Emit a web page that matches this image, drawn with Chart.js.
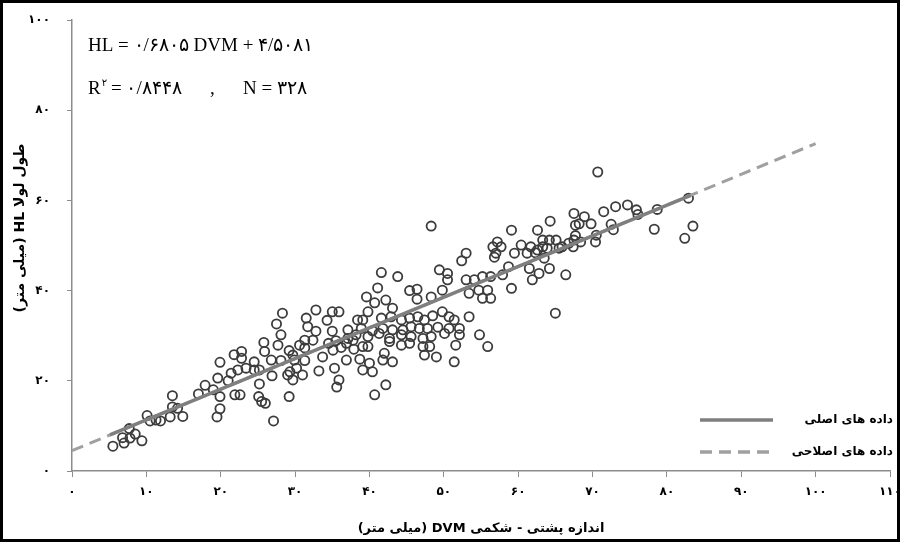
<!DOCTYPE html>
<html>
<head>
<meta charset="utf-8">
<script src="https://cdn.jsdelivr.net/npm/chart.js@4.4.1/dist/chart.umd.min.js"></script>
<style>
  html, body { margin: 0; padding: 0; background: #fff; }
  canvas { display: block; }
</style>
</head>
<body>
<canvas id="myChart" width="902" height="546" dir="rtl"></canvas>
<script>
const ctx = document.getElementById('myChart').getContext('2d')

// DVM (mm) of each specimen
const dvm = [
  5.5, 7.0, 6.8, 7.7, 7.8, 8.5, 9.4, 10.1, 10.5, 11.3, 11.9, 13.2, 13.5, 13.5, 14.2, 14.9,
  17.0, 17.9, 19.0, 19.6, 19.9, 19.9, 19.9, 19.5, 21.0, 21.4, 21.8, 21.9, 22.6, 22.3, 22.8, 22.8,
  23.4, 24.5, 24.5, 25.2, 25.1, 25.5, 26.0, 25.8, 25.9, 27.1,
  25.2, 26.8, 26.9, 27.5, 28.3, 27.7, 28.1, 28.1, 29.0, 29.2, 29.2, 29.3, 29.7, 29.7, 29.9, 30.2,
  30.6, 31.3, 31.3, 31.3, 31.0, 31.5, 31.7, 32.4, 32.8, 32.8, 33.2, 33.7, 34.3, 34.5, 35.0, 35.0,
  35.1, 35.3, 35.5, 35.6, 35.9, 35.9, 36.2, 36.9, 36.9, 37.1, 37.1, 37.8, 37.9, 38.4, 38.7, 39.1,
  39.1, 39.1, 39.8, 39.6,
  48.3, 53.0, 52.4, 49.4, 50.5, 50.5, 49.8, 53.0, 54.1, 55.2, 53.4, 55.2, 41.6, 43.8, 41.1, 45.4,
  46.4, 46.4, 48.3, 40.7, 42.2, 43.1, 41.6, 42.9, 44.3, 45.4, 46.5, 47.4, 48.5, 49.8, 50.7, 51.4,
  38.9, 40.4, 41.8, 43.1, 44.5, 45.6, 46.7, 47.8, 49.2, 50.7, 52.1, 53.4, 38.2, 39.8, 41.3, 42.7,
  44.3, 45.6, 47.2, 48.3, 50.1, 52.1, 54.8, 55.9, 51.6, 39.8, 42.7, 44.3, 45.4, 47.2, 48.1, 47.4,
  49.0, 51.4, 40.0, 42.0, 41.8, 43.1, 40.4, 42.2, 40.7,
  56.3, 54.7, 56.3, 56.6, 57.0, 57.7, 57.2, 56.8, 57.9, 58.7, 59.1, 59.1, 59.5, 60.4, 61.2, 61.7,
  61.5, 61.9, 62.6, 62.8, 62.6, 63.3, 63.9, 64.3, 64.2, 65.1, 65.0, 66.4, 65.9, 66.8, 67.5, 67.7,
  68.2, 68.9, 69.8, 67.5, 67.4, 70.5, 70.4,
  71.5, 67.7, 62.3, 63.3, 64.2, 65.5, 63.5, 55.9,
  70.7, 73.1, 74.7, 75.9, 76.1, 78.7, 78.3, 82.9, 83.5, 82.4, 72.5, 72.8, 68.4
]

// HL (mm), same order as dvm
const hl = [
  5.5, 6.2, 7.4, 9.4, 7.3, 8.2, 6.7, 12.3, 11.1, 11.3, 11.1, 12.0, 16.7, 14.2, 13.9, 12.1,
  17.1, 19.0, 18.0, 20.6, 24.1, 16.5, 13.8, 12.0, 20.0, 21.7, 25.8, 16.9, 16.9, 22.4, 26.5, 25.0,
  22.8, 24.2, 22.4, 19.3, 16.5, 15.4, 15.0, 28.5, 26.5, 11.1,
  22.4, 24.6, 21.1, 32.6, 35.0, 27.9, 30.2, 24.5, 21.3, 26.7, 16.5, 22.0, 25.7, 20.2, 24.6, 22.8,
  27.9, 29.0, 27.3, 24.5, 21.3, 33.9, 32.0, 29.0, 35.7, 31.0, 22.2, 25.3, 33.4, 28.3, 35.3, 31.0,
  26.8, 22.8, 28.9, 18.6, 20.2, 35.3, 27.4, 28.3, 24.6, 31.3, 29.4, 29.0, 27.0, 33.5, 24.8, 33.5,
  27.6, 22.4, 35.3, 38.6,
  54.3, 48.3, 46.6, 44.6, 43.8, 42.4, 40.1, 42.4, 42.4, 43.1, 39.4, 38.3, 44.0, 43.1, 40.6, 40.0,
  40.3, 38.1, 38.6, 37.3, 37.9, 36.1, 33.9, 34.2, 33.5, 33.9, 34.2, 33.5, 34.4, 35.3, 34.2, 33.5,
  31.6, 31.1, 31.6, 31.3, 31.3, 32.0, 31.6, 31.6, 31.9, 31.6, 31.6, 34.2, 30.2, 29.8, 30.5, 29.4,
  30.2, 29.8, 29.4, 29.8, 30.5, 30.2, 30.2, 27.6, 27.9, 27.6, 28.7, 27.9, 28.3, 27.6, 27.6, 25.7,
  25.3, 24.2, 23.9, 26.1, 24.6, 24.2, 22.0, 19.1, 16.9,
  43.1, 40.1, 38.3, 49.7, 48.3, 49.7, 50.8, 47.4, 43.5, 45.3, 53.4, 40.5, 48.3, 50.1, 48.3, 49.7,
  44.9, 42.4, 53.4, 43.8, 49.0, 51.2, 49.4, 55.4, 44.9, 51.2, 35.0, 43.5, 49.7, 50.5, 57.1, 54.5,
  54.8, 56.4, 54.8, 51.2, 49.7, 52.3, 50.8,
  57.5, 52.2, 48.4, 49.7, 51.2, 49.4, 47.2, 40.1,
  66.3, 58.6, 59.0, 57.9, 56.9, 58.0, 53.6, 60.5, 54.3, 51.6, 54.7, 53.5, 50.8
]

// fitted line over the original range, and its dashed extension
const fitX = [5.1, 83.2]
const fitY = [8.0, 61.1]
const extX = [0, 100]
const extY = [4.5, 72.6]

const xTickLabels = ['۰', '۱۰', '۲۰', '۳۰', '۴۰', '۵۰', '۶۰', '۷۰', '۸۰', '۹۰', '۱۰۰', '۱۱۰']
const yTickLabels = ['۰', '۲۰', '۴۰', '۶۰', '۸۰', '۱۰۰']

const xTitle = 'اندازه پشتی - شکمی DVM (میلی متر)'
const yTitle = 'طول لولا HL (میلی متر)'
const legendLabels = ['داده های اصلی', 'داده های اصلاحی']
const eqLine = 'HL = ۰/۶۸۰۵ DVM + ۴/۵۰۸۱'
const r2Text = '= ۰/۸۴۴۸'
const nText = 'N = ۳۲۸'

const axisColor = '#8c8c8c'
const tickFont = { family: 'DejaVu Sans', size: 12, weight: 'bold' }

const toPoints = (xs, ys) => xs.map((x, i) => ({ x, y: ys[i] }))

// equation, legend, y title and the outer frame
const decor = {
  id: 'decor',
  afterDraw(chart) {
    const c = chart.ctx
    c.save()
    c.strokeStyle = '#000'
    c.lineWidth = 3
    c.strokeRect(1.5, 1.5, 897, 539)

    c.fillStyle = '#000'
    c.direction = 'ltr'
    c.textAlign = 'left'
    c.textBaseline = 'alphabetic'
    c.font = '19px "Liberation Serif"'
    c.fillText(eqLine, 88, 51)
    c.fillText('R', 88, 94)
    const rw = c.measureText('R').width
    c.fillText(r2Text, 111, 94)
    c.fillText(',', 210, 94)
    c.fillText(nText, 243, 94)
    c.font = '10px "DejaVu Sans"'
    c.fillText('۲', 88 + rw + 1, 86)

    // legend
    c.lineWidth = 3.5
    c.strokeStyle = '#7f7f7f'
    c.beginPath(); c.moveTo(700, 420); c.lineTo(773, 420); c.stroke()
    c.strokeStyle = '#a0a0a0'
    c.setLineDash([12, 7])
    c.beginPath(); c.moveTo(700, 452); c.lineTo(773, 452); c.stroke()
    c.setLineDash([])
    c.direction = 'rtl'
    c.textAlign = 'right'
    c.textBaseline = 'middle'
    c.font = 'bold 12px "DejaVu Sans"'
    c.fillText(legendLabels[0], 893, 420)
    c.fillText(legendLabels[1], 893, 452)

    // y title, rotated
    c.translate(20, 228)
    c.rotate(-Math.PI / 2)
    c.textAlign = 'center'
    c.font = 'bold 14px "DejaVu Sans"'
    c.fillText(yTitle, 0, 0)
    c.restore()
  }
}

const myChart = new Chart(ctx, {
  type: 'scatter',
  data: {
    datasets: [
      {
        label: legendLabels[0],
        type: 'line',
        data: toPoints(fitX, fitY),
        borderColor: '#7f7f7f',
        borderWidth: 3.5,
        pointRadius: 0,
        fill: false,
        order: 0
      },
      {
        label: legendLabels[1],
        type: 'line',
        data: toPoints(extX, extY),
        borderColor: '#a0a0a0',
        borderWidth: 3,
        borderDash: [12, 7],
        pointRadius: 0,
        fill: false,
        order: 1
      },
      {
        label: 'DVM / HL',
        data: toPoints(dvm, hl),
        pointRadius: 4.6,
        pointBorderWidth: 1.8,
        borderColor: '#3c3c3c',
        backgroundColor: 'rgba(255,255,255,0)',
        order: 2
      }
    ]
  },
  options: {
    responsive: false,
    animation: false,
    layout: { padding: { top: 20, right: 12, left: 0, bottom: 0 } },
    plugins: {
      legend: { display: false },
      tooltip: { enabled: false }
    },
    scales: {
      x: {
        type: 'linear',
        min: 0,
        max: 110,
        ticks: {
          stepSize: 10,
          maxRotation: 0,
          padding: 8,
          color: '#000',
          font: tickFont,
          callback: (v, i) => xTickLabels[i]
        },
        grid: { drawOnChartArea: false, tickLength: 6, color: axisColor },
        border: { color: axisColor, width: 1.5 },
        title: {
          display: true,
          text: xTitle,
          color: '#000',
          font: { family: 'DejaVu Sans', size: 13, weight: 'bold' },
          padding: { top: 0, bottom: 10 }
        },
        afterFit (s) { s.height = 75; s.paddingLeft = 0; s.paddingRight = 0 }
      },
      y: {
        type: 'linear',
        min: 0,
        max: 100,
        ticks: {
          stepSize: 20,
          padding: 17,
          color: '#000',
          font: tickFont,
          callback: (v, i) => yTickLabels[i]
        },
        grid: { drawOnChartArea: false, tickLength: 5, color: axisColor },
        border: { color: axisColor, width: 1.5 },
        afterFit (s) { s.width = 72; s.paddingTop = 0; s.paddingBottom = 0 }
      }
    }
  },
  plugins: [decor]
})
</script>
</body>
</html>
